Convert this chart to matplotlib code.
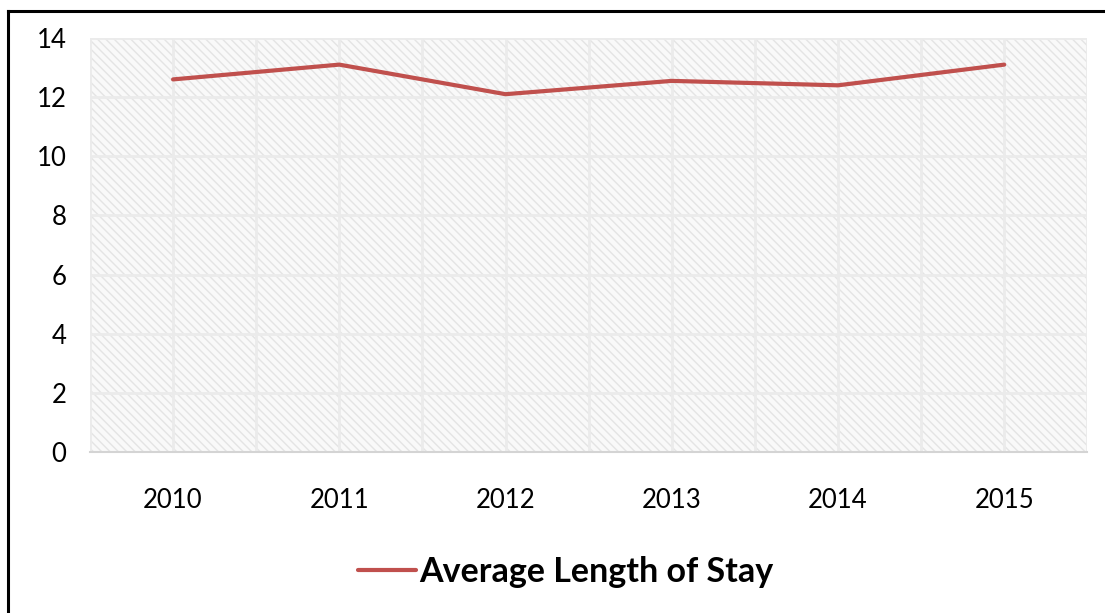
import matplotlib.pyplot as plt
import numpy as np
from matplotlib.patches import Rectangle
from matplotlib.lines import Line2D

# Datos de la serie
anios = ['2010', '2011', '2012', '2013', '2014', '2015']
estancia_media = [12.6, 13.1, 12.1, 12.55, 12.4, 13.1]
ticks_y = [0, 2, 4, 6, 8, 10, 12, 14]

plt.rcParams['font.family'] = ['Lato', 'DejaVu Sans']

fig = plt.figure(figsize=(11.05, 6.13), dpi=100)
ax = fig.add_axes([0.0814, 0.2626, 0.9026, 0.6754])

x = np.arange(len(anios))

# Fondo rayado del área de trazado
fondo = Rectangle((0, 0), 1, 1, transform=ax.transAxes, facecolor='#f9f9f9',
                  edgecolor='#e4e4e4', linewidth=0, hatch='\\\\\\\\', zorder=0.1)
ax.add_patch(fondo)
ax.patch.set_visible(False)

ax.plot(x, estancia_media, color='#c0504d', linewidth=3, solid_capstyle='round',
        label='Average Length of Stay', zorder=3)

ax.set_xlim(-0.5, len(anios) - 0.5)
ax.set_ylim(0, 14)
ax.set_yticks(ticks_y)
ax.set_xticks(x)
ax.set_xticklabels(anios)
ax.set_xticks(np.arange(-0.5, len(anios), 0.5), minor=True)

ax.grid(axis='y', color='#ebebeb', linewidth=2, zorder=0.5)
ax.grid(axis='x', which='both', color='#ebebeb', linewidth=2, zorder=0.5)
ax.set_axisbelow(True)

for lado in ['top', 'right', 'left']:
    ax.spines[lado].set_visible(False)
ax.spines['bottom'].set_color('#d4d4d4')
ax.spines['bottom'].set_linewidth(1.5)

ax.tick_params(axis='both', which='both', length=0, labelsize=18.5)
ax.tick_params(axis='y', pad=17)
ax.tick_params(axis='x', pad=26)

# Leyenda inferior
ax.legend(loc='center', bbox_to_anchor=(0.512, 0.067), bbox_transform=fig.transFigure,
          frameon=False, prop={'weight': 'bold', 'size': 24.5},
          handlelength=1.7, handletextpad=0.1)

# Marco exterior (izquierda y arriba)
fig.add_artist(Line2D([8 / 1105, 8 / 1105], [0, 1 - 11 / 613], color='black', linewidth=2.2,
                      transform=fig.transFigure))
fig.add_artist(Line2D([8 / 1105, 1], [1 - 11 / 613, 1 - 11 / 613], color='black', linewidth=2.2,
                      transform=fig.transFigure))

fig.savefig('out.png', dpi=100)
